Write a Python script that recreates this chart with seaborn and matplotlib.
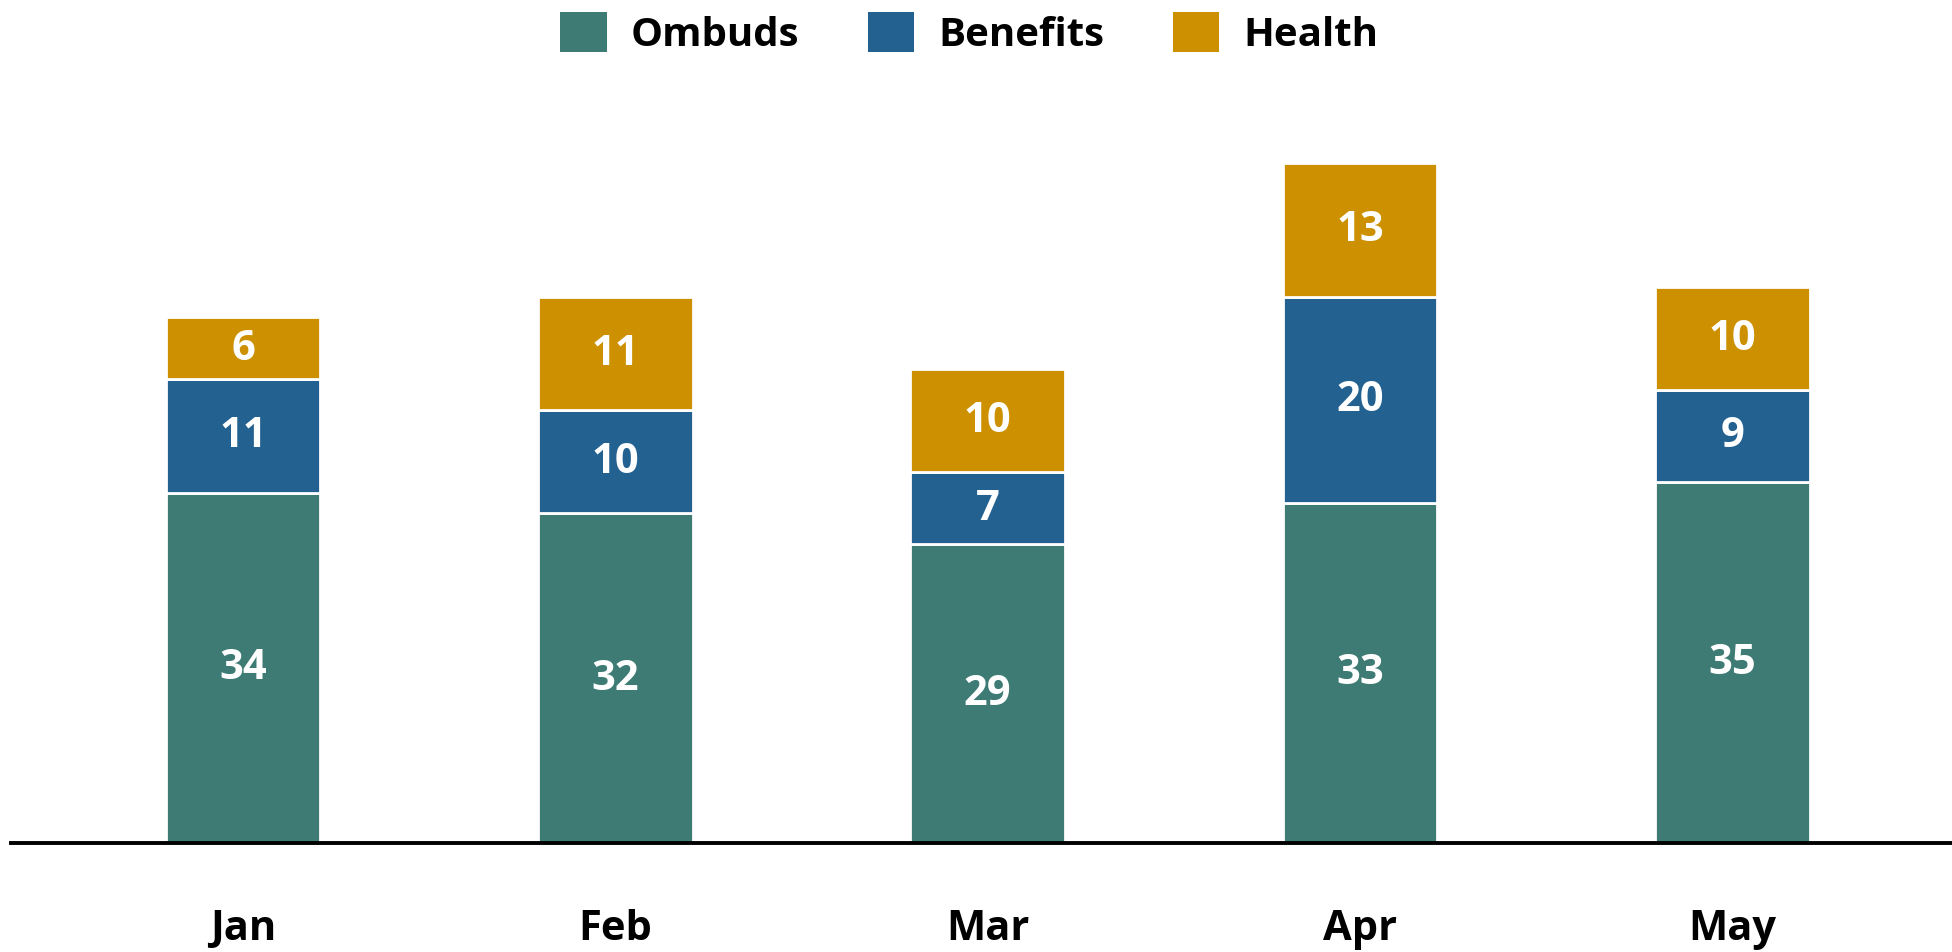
import matplotlib
matplotlib.use("Agg")
import matplotlib.pyplot as plt
import seaborn as sns
import pandas as pd
import numpy as np
from matplotlib.patches import Patch

months = ["Jan", "Feb", "Mar", "Apr", "May"]
ombuds = [34, 32, 29, 33, 35]
benefits = [11, 10, 7, 20, 9]
health = [6, 11, 10, 13, 10]
series_names = ["Ombuds", "Benefits", "Health"]
colors = ["#3D7B74", "#236190", "#CC9000"]

sns.set_theme(style="white")
plt.rcParams['font.family'] = ['Open Sans', 'DejaVu Sans']
plt.rcParams['text.color'] = 'black'
plt.rcParams['xtick.color'] = 'black'

df = pd.DataFrame({"Month": months, "Ombuds": ombuds, "Benefits": benefits, "Health": health})

fig = plt.figure(figsize=(19.52, 9.53), dpi=100)
ax = fig.add_axes([11/1952, 109/953, 1 - 11/1952, (844 - 100)/953])

bottom = np.zeros(len(months))
for name, col in zip(series_names, colors):
    sns.barplot(data=df, x="Month", y=name, color=col, bottom=bottom, width=0.416,
                edgecolor="white", linewidth=2, ax=ax, saturation=1)
    bottom = bottom + df[name].values

for cont in ax.containers:
    ax.bar_label(cont, label_type="center", color="white", fontsize=30, fontweight="bold")

ax.set_xlim(-0.623, 4.59)
ax.set_ylim(0, 72.2)
ax.set_xlabel("")
ax.set_ylabel("")
ax.set_yticks([])
ax.tick_params(axis="x", length=0, pad=47, labelsize=30, labelcolor="black")
for lbl in ax.get_xticklabels():
    lbl.set_fontweight("bold")
for s in ["top", "right", "left"]:
    ax.spines[s].set_visible(False)
ax.spines["bottom"].set_color("black")
ax.spines["bottom"].set_linewidth(2.8)

handles = [Patch(facecolor=c, edgecolor="none") for c in colors]
fig.legend(handles, series_names, loc="center", bbox_to_anchor=(0.4965, 1 - 34/953),
           ncol=3, frameon=False, prop={"size": 29, "weight": "bold"},
           labelcolor="black",
           handlelength=1.15, handleheight=1.15, handletextpad=0.6, columnspacing=1.7)

fig.savefig("out.png", dpi=100)
